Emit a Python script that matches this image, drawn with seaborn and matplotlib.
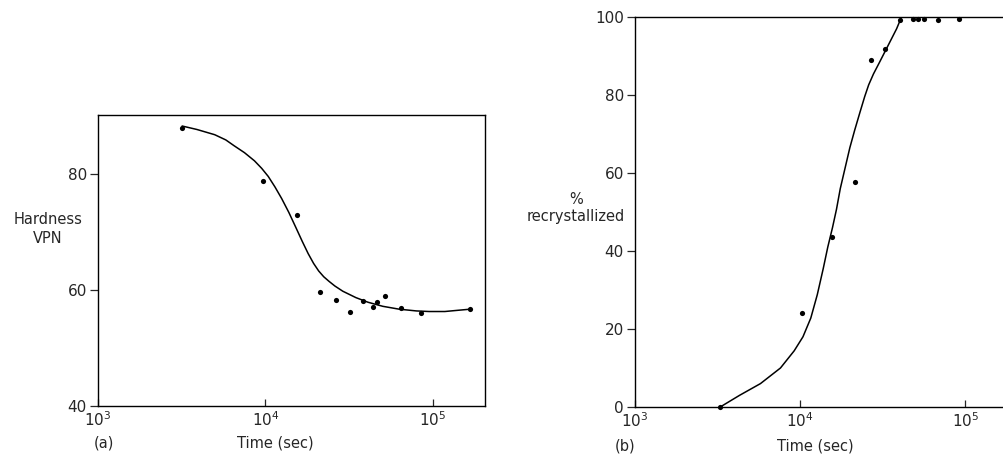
import matplotlib
matplotlib.use("Agg")
import matplotlib.pyplot as plt
import numpy as np
import pandas as pd
import seaborn as sns

# (a) hardness vs annealing time
hard_t = [3180, 9730, 15460, 21130, 26550, 31800, 38200, 44100, 46400, 51900, 64800, 85100, 167000]
hard_v = [88.0, 78.8, 72.9, 59.7, 58.3, 56.3, 58.1, 57.1, 57.9, 58.9, 56.9, 56.0, 56.7]
# hand-drawn trend curve
hard_curve_t = [3180, 3900, 4980, 5800, 6500, 7500, 8600, 9500, 10400, 11400, 12500, 13800,
                15200, 16600, 18000, 19400, 20800, 22300, 24000, 26000, 29000, 34700, 41000,
                50200, 63000, 79800, 95000, 118000, 140000, 167000]
hard_curve_v = [88.3, 87.7, 86.8, 85.9, 84.9, 83.7, 82.3, 81.0, 79.6, 77.8, 75.8, 73.4,
                70.8, 68.4, 66.3, 64.6, 63.3, 62.3, 61.5, 60.7, 59.8, 58.7, 57.9,
                57.2, 56.7, 56.4, 56.3, 56.3, 56.5, 56.7]

# (b) percent recrystallized vs time
rx_t = [3280, 10230, 15520, 21430, 26800, 32700, 40150, 48000, 51900, 56400, 68700, 91800]
rx_v = [0, 24.0, 43.5, 57.7, 89.0, 91.7, 99.3, 99.4, 99.4, 99.4, 99.3, 99.4]
rx_curve_t = [3280, 4300, 5750, 7600, 9200, 10400, 11600, 12700, 13800, 14700, 15700, 16600,
              17500, 18600, 20000, 21400, 23000, 24600, 26000, 27800, 30000, 34000, 38400, 41100]
rx_curve_v = [0, 3.0, 6.0, 10.0, 14.4, 18.0, 22.8, 28.8, 35.5, 41.0, 46.0, 50.7,
              56.0, 60.8, 66.5, 71.0, 75.5, 79.6, 82.6, 85.4, 88.1, 92.6, 97.0, 100.0]

sns.set_theme(style="ticks")
plt.rcParams['font.family'] = ['DejaVu Sans']
plt.rcParams['mathtext.default'] = 'regular'

fig = plt.figure(figsize=(10.04, 4.54), dpi=100)
W, H = 1004, 454
ax1 = fig.add_axes([98 / W, (H - 406) / H, (485 - 98) / W, (406 - 115) / H])
ax2 = fig.add_axes([635 / W, (H - 407) / H, 380 / W, (407 - 17) / H])

dfa = pd.DataFrame({"t": hard_t, "v": hard_v})
dfa_c = pd.DataFrame({"t": hard_curve_t, "v": hard_curve_v})
dfb = pd.DataFrame({"t": rx_t, "v": rx_v})
dfb_c = pd.DataFrame({"t": rx_curve_t, "v": rx_curve_v})

for ax, pts, crv in [(ax1, dfa, dfa_c), (ax2, dfb, dfb_c)]:
    sns.lineplot(data=crv, x="t", y="v", ax=ax, color="black", lw=1.1,
                 sort=False, estimator=None)
    sns.scatterplot(data=pts, x="t", y="v", ax=ax, color="black", s=14,
                    edgecolor="black", linewidth=0, zorder=5, clip_on=False)
    ax.set_xscale("log")
    ax.minorticks_off()
    ax.set_xticks([1e3, 1e4, 1e5])
    ax.set_xticklabels([r"$10^3$", r"$10^4$", r"$10^5$"], fontsize=11)
    ax.tick_params(axis="x", direction="in", length=5, width=0.9, pad=3)
    ax.tick_params(axis="y", direction="out", length=6, width=0.9, labelsize=11, pad=2)
    ax.set_xlabel("")
    ax.set_ylabel("")
    for s in ax.spines.values():
        s.set_linewidth(1.0)
        s.set_color("black")

ax1.set_xlim(1e3, 2.05e5)
ax1.set_ylim(40, 90.2)
ax1.set_yticks([40, 60, 80])

ax2.set_xlim(1e3, 2e5)
ax2.set_ylim(0, 100)
ax2.set_yticks([0, 20, 40, 60, 80, 100])
ax2.spines["right"].set_visible(False)

fig.text(48 / W, 1 - 229 / H, "Hardness\nVPN", ha="center", va="center",
         fontsize=10.5, linespacing=1.3)
fig.text(576 / W, 1 - 208 / H, "%\nrecrystallized", ha="center", va="center",
         fontsize=10.5, linespacing=1.2)

fig.text(275 / W, 1 - 443 / H, "Time (sec)", ha="center", va="center", fontsize=10.5)
fig.text(104 / W, 1 - 443 / H, "(a)", ha="center", va="center", fontsize=10.5)
fig.text(815 / W, 1 - 446 / H, "Time (sec)", ha="center", va="center", fontsize=10.5)
fig.text(625 / W, 1 - 446 / H, "(b)", ha="center", va="center", fontsize=10.5)

fig.savefig("out.png", dpi=100, facecolor="white")
